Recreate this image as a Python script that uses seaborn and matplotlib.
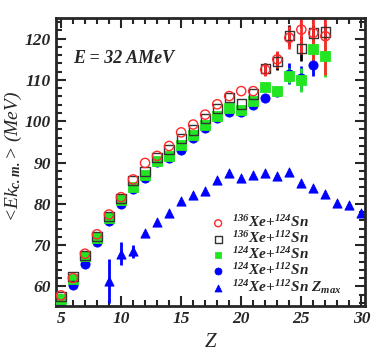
import numpy as np
import pandas as pd
import matplotlib
matplotlib.use("Agg")
import matplotlib.pyplot as plt
import seaborn as sns
from matplotlib.ticker import MultipleLocator

# ---- data ----
z_red = list(range(5, 28))
red = [57.8, 62.0, 67.9, 72.6, 77.4, 81.6, 85.9, 89.9, 91.6, 94.0, 97.3, 99.2,
       101.6, 104.1, 106.1, 107.3, 107.3, 112.5, 115.0, 120.2, 122.2, 121.4, 120.6]
red_err = [0]*17 + [1.5, 2.0, 2.8, 6.0, 8.0, 9.5]

z_black = list(range(5, 28))
black = [57.5, 62.3, 67.5, 72.1, 77.0, 81.2, 85.6, 87.8, 91.2, 93.2, 95.8, 97.9,
         100.7, 103.0, 105.8, 104.2, 106.6, 112.7, 114.5, 120.8, 117.6, 121.4, 121.6]
black_err = [0]*17 + [1.5, 2.2, 2.5, 3.0, 2.0, 2.0]

z_green = list(range(5, 28))
green = [57.0, 61.8, 67.3, 71.8, 76.6, 80.9, 84.1, 87.0, 90.4, 91.6, 94.3, 96.7,
         99.1, 101.3, 103.3, 102.6, 104.8, 108.2, 107.4, 111.0, 110.0, 117.6, 115.7]
green_err = [0]*18 + [1.2, 1.8, 2.8, 3.0, 5.0]

z_blue = list(range(5, 27))
blue = [56.2, 60.4, 65.5, 70.8, 75.9, 79.9, 83.5, 86.2, 90.2, 91.2, 93.0, 95.9,
        98.3, 100.7, 102.3, 102.3, 104.0, 105.7, 107.0, 111.5, 110.5, 113.7]
blue_err = [0]*18 + [1.0, 2.5, 3.0, 2.7]

z_tri = list(range(9, 31))
tri = [61.3, 67.9, 68.5, 73.0, 75.6, 77.8, 80.6, 82.1, 83.1, 85.7, 87.4, 86.2,
       87.0, 87.4, 86.8, 87.6, 85.1, 83.8, 82.3, 80.1, 79.7, 77.7]
tri_err = [5.3, 2.8, 1.6] + [0]*19

labels = [r"$^{136}$Xe+$^{124}$Sn", r"$^{136}$Xe+$^{112}$Sn",
          r"$^{124}$Xe+$^{124}$Sn", r"$^{124}$Xe+$^{112}$Sn",
          r"$^{124}$Xe+$^{112}$Sn Z$_{max}$"]

# ---- style ----
sns.set_style("ticks")
plt.rcParams['font.family'] = ['Liberation Serif', 'DejaVu Serif']
plt.rcParams['font.style'] = 'italic'
plt.rcParams['font.weight'] = 'bold'
plt.rcParams['mathtext.fontset'] = 'custom'
plt.rcParams['mathtext.rm'] = 'Liberation Serif:italic:bold'
plt.rcParams['mathtext.it'] = 'Liberation Serif:italic:bold'
plt.rcParams['mathtext.bf'] = 'Liberation Serif:italic:bold'

RED = "#ff2a2a"
GREEN = "#22e622"
BLUE = "#0000ff"

fig = plt.figure(figsize=(3.74, 3.61), dpi=100)
ax = fig.add_axes([0.150, 0.152, 0.826, 0.798])

# error bars
for zz, yy, ee, c in [(z_blue, blue, blue_err, BLUE),
                      (z_green, green, green_err, GREEN),
                      (z_black, black, black_err, "black"),
                      (z_red, red, red_err, RED),
                      (z_tri, tri, tri_err, BLUE)]:
    ax.errorbar(zz, yy, yerr=ee, fmt='none', ecolor=c, elinewidth=2.0, capsize=0, zorder=1)

ms = 44
sns.scatterplot(x=z_blue, y=blue, ax=ax, marker='o', s=ms, color=BLUE,
                edgecolor=BLUE, linewidth=0.6, zorder=2, label=labels[3])
sns.scatterplot(x=z_green, y=green, ax=ax, marker='s', s=ms, color=GREEN,
                edgecolor=GREEN, linewidth=0.6, zorder=3, label=labels[2])
sns.scatterplot(x=z_black, y=black, ax=ax, marker='s', s=ms, facecolor='none',
                edgecolor='#333333', linewidth=1.0, zorder=4, label=labels[1])
sns.scatterplot(x=z_red, y=red, ax=ax, marker='o', s=ms, facecolor='none',
                edgecolor=RED, linewidth=1.0, zorder=5, label=labels[0])
sns.scatterplot(x=z_tri, y=tri, ax=ax, marker='^', s=ms, color=BLUE,
                edgecolor=BLUE, linewidth=0.6, zorder=2, label=labels[4])

ax.set_xlim(4.6, 30.3)
ax.set_ylim(55.2, 125.0)
ax.xaxis.set_major_locator(MultipleLocator(5))
ax.xaxis.set_minor_locator(MultipleLocator(1))
ax.yaxis.set_major_locator(MultipleLocator(10))
ax.yaxis.set_minor_locator(MultipleLocator(2))
ax.tick_params(which='both', direction='in', top=True, right=True, labelsize=12.5, width=1.5)
ax.tick_params(which='major', length=7)
ax.tick_params(which='minor', length=4)
for sp in ax.spines.values():
    sp.set_linewidth(2)
for lab in ax.get_xticklabels() + ax.get_yticklabels():
    lab.set_fontstyle('italic')
    lab.set_fontweight('bold')

ax.set_xlabel("Z", fontsize=15, labelpad=4)
ax.set_ylabel("<Ek$_{c.m.}$> (MeV)", fontsize=14)
ax.yaxis.set_label_coords(-0.105, 0.52)
ax.text(0.055, 0.845, "E = 32 AMeV", transform=ax.transAxes, fontsize=13)

handles, labs = ax.get_legend_handles_labels()
order = [labs.index(l) for l in labels]
ax.legend([handles[i] for i in order], [labs[i] for i in order],
          loc='upper left', bbox_to_anchor=(0.475, 0.345), frameon=False,
          fontsize=11, labelspacing=0.0, handletextpad=0.4, borderpad=0,
          handlelength=1.0, markerscale=0.75)

fig.savefig("out.png", dpi=100)
